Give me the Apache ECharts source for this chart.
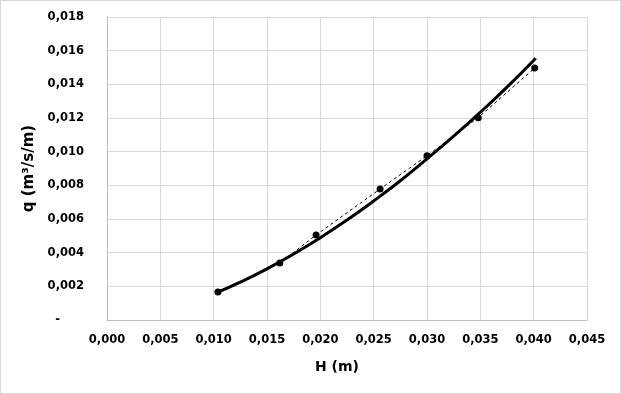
<!DOCTYPE html>
<html>
<head>
<meta charset="utf-8">
<script src="https://cdn.jsdelivr.net/npm/echarts@6/dist/echarts.min.js"></script>
<style>
html,body{margin:0;padding:0;background:#fff;}
#c{width:621px;height:394px;box-sizing:border-box;border:1px solid #d9d9d9;}
</style>
</head>
<body>
<div id="c"></div>
<script>
// Measured points (H in m, q in m3/s/m)
const measH = [0.0104, 0.0162, 0.0196, 0.0256, 0.0300, 0.0348, 0.0401];
const measQ = [0.00166, 0.00338, 0.00505, 0.00778, 0.00976, 0.01202, 0.01497];
// Fitted curve
const fitH = [0.0104, 0.0125, 0.0150, 0.0175, 0.0200, 0.0225, 0.0250, 0.0275, 0.0300, 0.0325, 0.0350, 0.0375, 0.0402];
const fitQ = [0.00166, 0.00225, 0.00304, 0.00392, 0.00489, 0.00594, 0.00707, 0.00827, 0.00957, 0.01092, 0.01234, 0.01383, 0.01555];
const xTicks = { min: 0, max: 0.045, interval: 0.005 };
const yTicks = { min: 0, max: 0.018, interval: 0.002 };

const fmt = v => v.toFixed(3).replace('.', ',');
const font = '"DejaVu Sans", Verdana, sans-serif';

const chart = echarts.init(document.getElementById('c'), null, { renderer: 'canvas' });
chart.setOption({
  animation: false,
  grid: { left: 106, top: 16, width: 480, height: 303, containLabel: false },
  xAxis: {
    type: 'value', min: xTicks.min, max: xTicks.max, interval: xTicks.interval,
    name: 'H (m)', nameLocation: 'middle', nameGap: 40,
    nameTextStyle: { fontFamily: font, fontWeight: 'bold', fontSize: 14, color: '#000', padding: [0, 20, 0, 0] },
    axisLine: { show: true, lineStyle: { color: '#bfbfbf', width: 1 } },
    axisTick: { show: false },
    axisLabel: { formatter: fmt, fontFamily: font, fontWeight: 'bold', fontSize: 11.5, color: '#000', margin: 14 },
    splitLine: { show: true, lineStyle: { color: '#d9d9d9', width: 1 } }
  },
  yAxis: {
    type: 'value', min: yTicks.min, max: yTicks.max, interval: yTicks.interval,
    name: 'q (m³/s/m)', nameLocation: 'middle', nameGap: 69, nameRotate: 90,
    nameTextStyle: { fontFamily: font, fontWeight: 'bold', fontSize: 15, color: '#000' },
    axisLine: { show: true, lineStyle: { color: '#bfbfbf', width: 1 } },
    axisTick: { show: false },
    axisLabel: {
      formatter: v => v === 0 ? '{z|-}' : fmt(v),
      fontFamily: font, fontWeight: 'bold', fontSize: 11.5, color: '#000', margin: 23,
      rich: { z: { fontFamily: font, fontWeight: 'bold', fontSize: 11.5, color: '#000', padding: [0, 24, 0, 0] } }
    },
    splitLine: { show: true, lineStyle: { color: '#d9d9d9', width: 1 } }
  },
  series: [
    {
      type: 'line', name: 'fit', data: fitH.map((h, i) => [h, fitQ[i]]),
      smooth: true, showSymbol: false, symbol: 'none',
      lineStyle: { color: '#000', width: 3 }, z: 3
    },
    {
      type: 'line', name: 'meas', data: measH.map((h, i) => [h, measQ[i]]),
      symbol: 'circle', symbolSize: 7,
      itemStyle: { color: '#000' },
      lineStyle: { color: '#000', width: 1, type: [3, 3] }, z: 4
    }
  ]
});
</script>
</body>
</html>
